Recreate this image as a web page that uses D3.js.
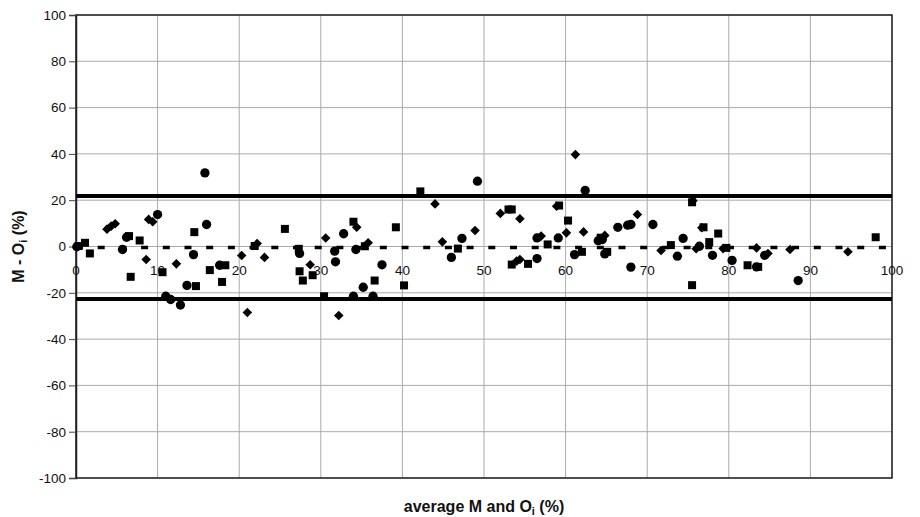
<!DOCTYPE html>
<html>
<head>
<meta charset="utf-8">
<script src="https://cdn.jsdelivr.net/npm/d3@7"></script>
<style>
  body { margin: 0; background: #fff; }
  text { font-family: "Liberation Sans", Arial, sans-serif; }
</style>
</head>
<body>
<div class="canva"></div>
<script>
// data
const circleX = [0.1, 5.7, 6.2, 10.0, 11.0, 11.6, 12.8, 13.6, 14.4, 15.8, 16.0, 17.6, 27.4, 31.7, 31.8, 32.8, 34.3, 34.0, 35.2, 36.4, 37.5, 46.0, 47.3, 49.2, 56.5, 56.5, 59.1, 61.1, 62.4, 64.0, 64.5, 64.8, 66.4, 67.6, 68.0, 68.0, 70.7, 73.7, 74.4, 76.4, 78.0, 80.4, 83.4, 84.4, 88.5];
const circleY = [-0.1, -1.3, 4.0, 13.8, -21.5, -22.9, -25.3, -16.8, -3.5, 31.8, 9.5, -8.1, -3.0, -2.0, -6.6, 5.5, -1.3, -21.5, -17.6, -21.5, -7.9, -4.7, 3.5, 28.2, -5.2, 3.7, 3.7, -3.5, 24.2, 2.5, 3.0, -3.2, 8.3, 9.2, 9.5, -8.9, 9.5, -4.2, 3.5, 0.1, -3.8, -6.0, -8.8, -3.8, -14.7];

const diamondX = [3.8, 4.3, 4.8, 8.6, 8.9, 9.4, 12.3, 20.3, 21.0, 22.2, 23.1, 28.7, 30.6, 32.2, 34.4, 35.8, 44.0, 44.9, 48.9, 52.0, 54.0, 54.4, 54.4, 57.0, 58.9, 60.1, 61.2, 62.2, 64.8, 68.8, 71.7, 75.6, 76.0, 76.7, 79.3, 83.4, 84.8, 87.5, 94.6];
const diamondY = [7.5, 8.8, 9.8, -5.6, 11.7, 10.7, -7.5, -3.9, -28.5, 1.3, -4.7, -7.9, 3.7, -29.8, 8.3, 1.6, 18.4, 2.0, 6.9, 14.3, -6.3, -5.6, 12.0, 4.5, 17.4, 5.9, 39.7, 6.3, 4.8, 13.8, -1.7, 19.8, -1.0, 8.1, -0.9, -0.6, -3.0, -1.3, -2.3];

const squareX = [0.3, 1.1, 1.7, 6.5, 6.7, 7.8, 10.6, 14.5, 14.7, 16.4, 17.9, 18.3, 21.9, 25.6, 27.3, 27.4, 27.8, 29.0, 30.4, 34.0, 35.4, 36.6, 39.2, 40.2, 42.2, 46.8, 53.0, 53.4, 53.4, 55.4, 57.8, 59.2, 60.3, 62.0, 64.3, 65.1, 72.9, 75.5, 75.5, 76.9, 77.6, 78.7, 79.7, 82.3, 83.6, 98.0];
const squareY = [0.2, 1.6, -3.0, 4.5, -13.1, 2.6, -11.1, 6.2, -17.1, -10.2, -15.3, -8.1, 0.2, 7.6, -1.0, -10.7, -14.7, -12.4, -21.5, 10.7, 0.1, -14.7, 8.3, -16.8, 23.8, -0.9, 16.0, 16.0, -7.8, -7.5, 0.9, 17.7, 11.2, -2.3, 3.8, -2.3, 0.6, 19.1, -16.7, 8.3, 1.9, 5.6, -0.6, -8.1, -8.8, 4.0];

const meanDiff = -0.45;
const upperLimit = 21.8;
const lowerLimit = -22.7;

const xTicks = [0, 10, 20, 30, 40, 50, 60, 70, 80, 90, 100];
const yTicks = [-100, -80, -60, -40, -20, 0, 20, 40, 60, 80, 100];

const width = 920, height = 517;
const margin = { top: 15, right: 28, bottom: 39, left: 76 };

const svg = d3.select('.canva').append('svg')
  .attr('width', width)
  .attr('height', height);

const x = d3.scaleLinear().domain([0, 100]).range([margin.left, width - margin.right]);
const y = d3.scaleLinear().domain([-100, 100]).range([height - margin.bottom, margin.top]);

// grid
svg.append('g').selectAll('line').data(xTicks).enter().append('line')
  .attr('x1', d => x(d)).attr('x2', d => x(d))
  .attr('y1', y(100)).attr('y2', y(-100))
  .attr('stroke', '#aaa').attr('stroke-width', 1);
svg.append('g').selectAll('line').data(yTicks).enter().append('line')
  .attr('x1', x(0)).attr('x2', x(100))
  .attr('y1', d => y(d)).attr('y2', d => y(d))
  .attr('stroke', '#aaa').attr('stroke-width', 1);

// plot border
svg.append('rect')
  .attr('x', x(0)).attr('y', y(100))
  .attr('width', x(100) - x(0)).attr('height', y(-100) - y(100))
  .attr('fill', 'none').attr('stroke', '#222').attr('stroke-width', 1.5);

// y axis (plain hyphen for negatives, like the original)
const yAxis = svg.append('g')
  .attr('transform', `translate(${x(0)},0)`)
  .call(d3.axisLeft(y).tickValues(yTicks).tickFormat(d => String(d)).tickSize(7).tickPadding(3));
yAxis.select('.domain').attr('stroke', '#222').attr('stroke-width', 1.5);
yAxis.selectAll('line').attr('stroke', '#444');
yAxis.selectAll('text')
  .attr('font-size', 13.5).attr('fill', '#111')
  .style('font-family', '"Liberation Sans", Arial, sans-serif');

// x tick labels sit next to the zero line
svg.append('g').selectAll('text').data(xTicks).enter().append('text')
  .attr('x', d => x(d))
  .attr('y', y(0) + 28)
  .attr('text-anchor', 'middle')
  .attr('font-size', 13.5).attr('fill', '#111')
  .text(d => d);

// limits of agreement
[upperLimit, lowerLimit].forEach(v => {
  svg.append('line')
    .attr('x1', x(0)).attr('x2', x(100))
    .attr('y1', y(v)).attr('y2', y(v))
    .attr('stroke', '#000').attr('stroke-width', 4);
});

// mean difference
svg.append('line')
  .attr('x1', x(0)).attr('x2', x(100))
  .attr('y1', y(meanDiff)).attr('y2', y(meanDiff))
  .attr('stroke', '#000').attr('stroke-width', 3.5)
  .attr('stroke-dasharray', '7,14.7');

// markers
function drawSeries(xs, ys, type, size, rotate) {
  const sym = d3.symbol().type(type).size(size);
  svg.append('g').selectAll('path')
    .data(xs.map((d, i) => [d, ys[i]]))
    .enter().append('path')
    .attr('d', sym)
    .attr('transform', d => `translate(${x(d[0])},${y(d[1])})` + (rotate ? ' rotate(45)' : ''))
    .attr('fill', '#000');
}
drawSeries(circleX, circleY, d3.symbolCircle, 68, false);
drawSeries(squareX, squareY, d3.symbolSquare, 64, false);
drawSeries(diamondX, diamondY, d3.symbolSquare, 46, true);

// axis titles
svg.append('text')
  .attr('x', (x(0) + x(100)) / 2)
  .attr('y', 512)
  .attr('text-anchor', 'middle')
  .attr('font-size', 16).attr('font-weight', 'bold').attr('fill', '#111')
  .html('average M and O<tspan font-size="11" dy="3">i</tspan><tspan dy="-3"> (%)</tspan>');

svg.append('text')
  .attr('transform', `translate(24,${y(0)}) rotate(-90)`)
  .attr('text-anchor', 'middle')
  .attr('font-size', 16).attr('font-weight', 'bold').attr('fill', '#111')
  .html('M - O<tspan font-size="11" dy="3">i</tspan><tspan dy="-3"> (%)</tspan>');
</script>
</body>
</html>
